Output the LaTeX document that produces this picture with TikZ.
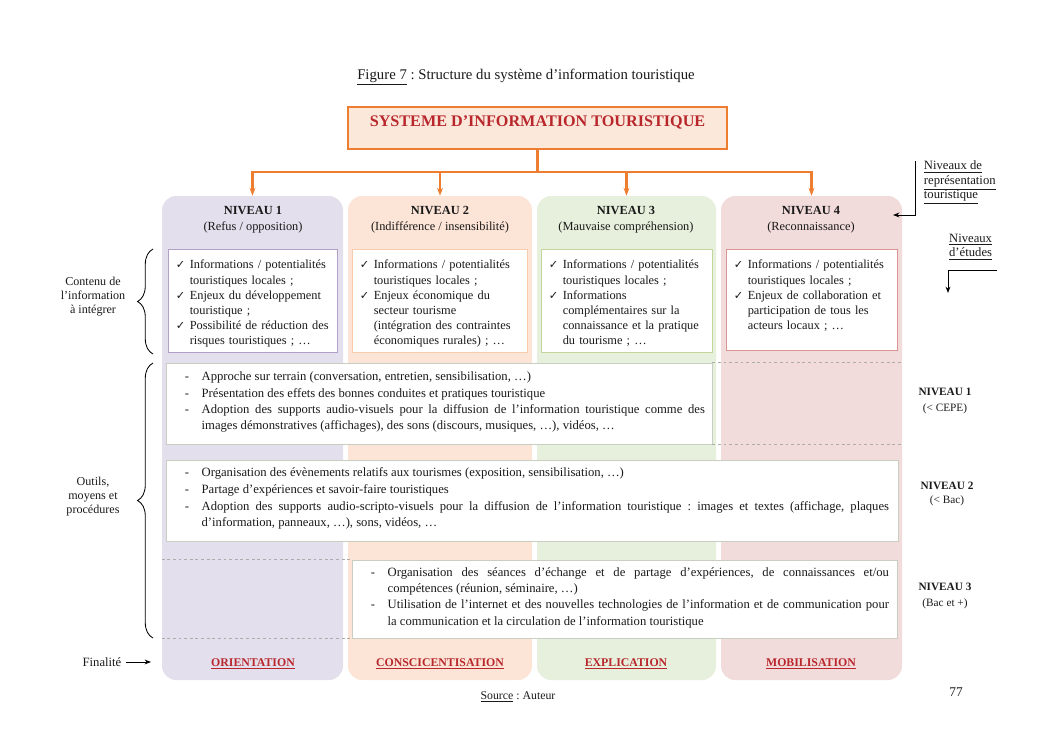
\documentclass[tikz,border=0pt]{standalone}
\usepackage{fontspec}
\setmainfont{Liberation Serif}
\newfontfamily\symfont{DejaVu Sans}
\usetikzlibrary{positioning,arrows.meta,calc,fit,decorations.pathreplacing}
\definecolor{ink}{HTML}{1A1A1A}
\definecolor{sysorange}{HTML}{ED7D31}
\definecolor{syspeach}{HTML}{FCE8DA}
\definecolor{sysred}{HTML}{B8272C}
\definecolor{lvlA}{HTML}{E4DFEC}
\definecolor{lvlB}{HTML}{FCE4D6}
\definecolor{lvlC}{HTML}{E6F0DC}
\definecolor{lvlD}{HTML}{F2DCDB}
\definecolor{lvlAedge}{HTML}{B1A0C7}
\definecolor{lvlBedge}{HTML}{F8CBAD}
\definecolor{lvlCedge}{HTML}{C3D69B}
\definecolor{lvlDedge}{HTML}{D99694}
\definecolor{rowedge}{HTML}{C9CEC2}

\hyphenpenalty=10000
\exhyphenpenalty=10000
\frenchspacing

\newcommand{\tickmark}{{\symfont\fontsize{8}{8}\selectfont ✓}}
\newcommand{\tickitem}{\par\noindent\hangindent=0.35cm\hangafter=1\makebox[0.35cm][l]{\tickmark}}
\newcommand{\dashitem}{\par\noindent\hangindent=0.42cm\hangafter=1\makebox[0.42cm][l]{-}}

\begin{document}
\begin{tikzpicture}[
  x=0.025cm, y=-0.025cm,
  font=\fontsize{8}{10}\selectfont,
  text=ink,
  >={Stealth[length=1.6mm]},
  lvlcol/.style={rounded corners=10pt,inner sep=0pt},
  cbox/.style={fill=white,line width=0.7pt,inner sep=0pt},
  rowbox/.style={draw=rowedge,fill=white,line width=0.6pt,inner sep=0pt},
  ctext/.style={anchor=north west,inner sep=0pt,text width=4.3cm,align=left,
                font=\fontsize{8.8}{10.8}\selectfont},
  rtext/.style={anchor=west,inner sep=0pt,align=justify,font=\fontsize{9}{11.6}\selectfont},
  head/.style={align=center,font=\fontsize{8.8}{11.3}\selectfont},
  goal/.style={font=\fontsize{8.4}{10}\selectfont\bfseries,text=sysred},
  side/.style={align=center,font=\fontsize{8.6}{10}\selectfont},
  orgarrow/.style={draw=sysorange,line width=1.5pt,-{Stealth[length=2mm]}},
  curly/.style={decorate,decoration={brace,amplitude=11pt},line width=0.6pt},
  sepline/.style={draw=gray!65,line width=0.6pt,dash pattern=on 2pt off 2pt},
]
\useasboundingbox (0,0) rectangle (1053,745);

%================================================================== TITLE ===
\node[font=\fontsize{10.5}{12}\selectfont] (fig) at (526,77)
  {\underline{Figure 7} : Structure du système d’information touristique};

\node[draw=sysorange,fill=syspeach,line width=2pt,inner sep=0pt,
      fit={(348,107)(727,149)},font=\fontsize{11.5}{13}\selectfont\bfseries,text=sysred] (sys)
  {SYSTEME D’INFORMATION TOURISTIQUE};

%================================================================ COLUMNS ===
\node[lvlcol,fill=lvlA,fit={(162,196)(343,680)}] (col1) {};
\node[lvlcol,fill=lvlB,fit={(348,196)(532,680)}] (col2) {};
\node[lvlcol,fill=lvlC,fit={(537,196)(716,680)}] (col3) {};
\node[lvlcol,fill=lvlD,fit={(721,196)(902,680)}] (col4) {};

\coordinate (bus) at (538,172);
\foreach \c in {col1,col2,col3,col4}
  \draw[orgarrow] (sys.south) |- (bus -| \c.north) -- (\c.north);

\node[head] (hd1) at (253,220) {\textbf{NIVEAU 1}\\(Refus / opposition)};
\node[head] (hd2) at (440,220) {\textbf{NIVEAU 2}\\(Indifférence / insensibilité)};
\node[head] (hd3) at (626,220) {\textbf{NIVEAU 3}\\(Mauvaise compréhension)};
\node[head] (hd4) at (811,220) {\textbf{NIVEAU 4}\\(Reconnaissance)};

% contenu de l'information
\node[cbox,draw=lvlAedge,fit={(168,249)(337,352)}] (box1) {};
\node[cbox,draw=lvlBedge,fit={(352,249)(527,352)}] (box2) {};
\node[cbox,draw=lvlCedge,fit={(541,249)(712,352)}] (box3) {};
\node[cbox,draw=lvlDedge,fit={(726,249)(897,350)}] (box4) {};

\node[ctext] (txt1) at ([shift={(8,5)}]box1.north west)
  {\tickitem Informations / potentialités\newline touristiques locales ;
   \tickitem Enjeux du développement\newline touristique ;
   \tickitem Possibilité de réduction des\newline risques touristiques ; …\par};
\node[ctext] (txt2) at ([shift={(8,5)}]box2.north west)
  {\tickitem Informations / potentialités\newline touristiques locales ;
   \tickitem Enjeux économique du\newline secteur tourisme\newline (intégration des contraintes\newline économiques rurales) ; …\par};
\node[ctext] (txt3) at ([shift={(8,5)}]box3.north west)
  {\tickitem Informations / potentialités\newline touristiques locales ;
   \tickitem Informations\newline complémentaires sur la\newline connaissance et la pratique\newline du tourisme ; …\par};
\node[ctext] (txt4) at ([shift={(8,5)}]box4.north west)
  {\tickitem Informations / potentialités\newline touristiques locales ;
   \tickitem Enjeux de collaboration et\newline participation de tous les\newline acteurs locaux ; …\par};

%=================================================================== TOOLS ===
\node[rowbox,fit={(166,363)(712,444)}] (row1) {};
\node[rowbox,fit={(166,460)(898,541)}] (row2) {};
\node[rowbox,fit={(352,560)(897,638)}] (row3) {};

\draw[sepline] (row1.north east) -- (row1.north east -| col4.east);
\draw[sepline] (row1.south east) -- (row1.south east -| col4.east);
\draw[sepline] (row3.north west -| col1.west) -- (row3.north west);
\draw[sepline] (row3.south west -| col1.west) -- (row3.south west);

\node[rtext,text width=13.0cm] (tools1) at ([shift={(19,-5)}]row1.west)
  {\dashitem Approche sur terrain (conversation, entretien, sensibilisation, …)
   \dashitem Présentation des effets des bonnes conduites et pratiques touristique
   \dashitem Adoption des supports audio-visuels pour la diffusion de l’information touristique comme des\linebreak
   images démonstratives (affichages), des sons (discours, musiques, …), vidéos, …\par};
\node[rtext,text width=17.6cm,font=\fontsize{9}{12}\selectfont]
  (tools2) at ([shift={(19,-6)}]row2.west)
  {\dashitem Organisation des évènements relatifs aux tourismes (exposition, sensibilisation, …)
   \dashitem Partage d’expériences et savoir-faire touristiques
   \dashitem Adoption des supports audio-scripto-visuels pour la diffusion de l’information touristique : images et textes (affichage, plaques\linebreak
   d’information, panneaux, …), sons, vidéos, …\par};
\node[rtext,text width=12.95cm] (tools3) at ([shift={(19,-5)}]row3.west)
  {\dashitem Organisation des séances d’échange et de partage d’expériences, de connaissances et/ou\linebreak
   compétences (réunion, séminaire, …)
   \dashitem Utilisation de l’internet et des nouvelles technologies de l’information et de communication pour\linebreak
   la communication et la circulation de l’information touristique\par};

%================================================================ FINALITE ===
\node[goal] (fin1) at (253,664) {\underline{ORIENTATION}};
\node[goal] (fin2) at (440,664) {\underline{CONSCICENTISATION}};
\node[goal] (fin3) at (626,664) {\underline{EXPLICATION}};
\node[goal] (fin4) at (811,664) {\underline{MOBILISATION}};

%============================================================ LEFT LABELS ===
\draw[curly] (153,354) -- (153,249);
\draw[curly] (153,638) -- (153,363);
\node[side] (lcont) at (93,297) {Contenu de\\l’information\\à intégrer};
\node[side] (lout) at (93,497) {Outils,\\moyens et\\procédures};
\node[side,font=\fontsize{9}{10}\selectfont] (lfin) at (102,662) {Finalité};
\coordinate (finend) at (151,662);
\draw[->,line width=0.6pt] (lfin.east) -- (finend);

%=========================================================== RIGHT LABELS ===
\node[anchor=north west,align=left,font=\fontsize{9}{10.3}\selectfont] (nrep) at (919,156)
  {\underline{Niveaux de}\\\underline{représentation}\\\underline{touristique}};
\coordinate (reptip) at (893,215);
\draw[->,line width=0.7pt] ($(nrep.north west)+(-4,5)$) |- (reptip);

\node[anchor=north east,align=right,font=\fontsize{9}{10.3}\selectfont] (netu) at (997,229)
  {\underline{Niveaux}\\\underline{d’études}};
\coordinate (etutip) at (948,293);
\draw[->,line width=0.7pt] ($(netu.south east)+(0,6)$) -| (etutip);

\node[side,font=\fontsize{8}{11.3}\selectfont] (ed1) at (945,401) {\textbf{NIVEAU 1}\\(< CEPE)};
\node[side,font=\fontsize{8}{10}\selectfont] (ed2) at (947,494) {\textbf{NIVEAU 2}\\(< Bac)};
\node[side,font=\fontsize{8}{11.3}\selectfont] (ed3) at (945,596) {\textbf{NIVEAU 3}\\(Bac et +)};

%================================================================= FOOTER ===
\node[font=\fontsize{8.4}{10}\selectfont] (src) at (518,697) {\underline{Source} : Auteur};
\node[font=\fontsize{9.5}{11}\selectfont] (pg) at (956,692) {77};

\end{tikzpicture}
\end{document}
